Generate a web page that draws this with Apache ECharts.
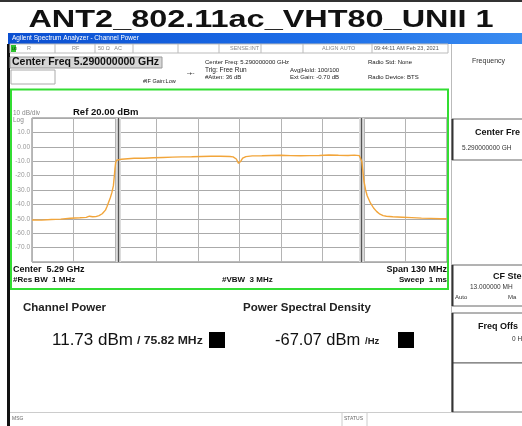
<!DOCTYPE html>
<html><head><meta charset="utf-8">
<script src="https://cdn.jsdelivr.net/npm/echarts@6/dist/echarts.min.js"></script>
<style>html,body{margin:0;padding:0;background:#fff}#c{width:522px;height:426px}</style>
</head><body><div id="c"></div>
<script>
// Frequency offset from 5.29 GHz centre (MHz) and trace level (dBm)
const freqOffsetMHz = [-65,-62,-59,-56,-53,-50,-48,-47,-46,-45,-44,-43,-42,-41.5,-41,-40.5,-40,-39.5,-39.2,-39,-38.8,-38.5,-38,-37,-35,-33,-30,-27,-24,-21,-18,-15,-12,-9,-6,-3,-2,-1,-0.3,0,0.4,1,2,4,7,10,13,16,19,22,25,28,31,34,36,37.5,38,38.3,38.6,39,39.5,40,41,42,43,44,45,46,48,51,54,57,60,63,65];
const traceDbm = [-50.8,-50.9,-50.5,-50.2,-49.6,-49.3,-49.0,-48.2,-48.6,-48.5,-47.8,-46.5,-44,-41.5,-38.5,-35.5,-32,-27,-20,-15,-11,-9.3,-8.8,-8.6,-8.3,-8.0,-7.9,-7.6,-7.4,-7.2,-7.0,-6.9,-6.7,-6.6,-6.6,-6.7,-7.0,-8.5,-11.5,-11.8,-10,-7.8,-6.8,-6.3,-6.2,-6.0,-5.9,-6.1,-6.2,-6.1,-6.0,-5.7,-5.9,-6.0,-5.8,-6.1,-7,-10,-16,-24,-30,-34,-39,-42.5,-45,-46.8,-47.8,-48.2,-48.6,-48.9,-49.2,-49.5,-49.7,-50,-50];
const channelEdgesMHz = [-38, 38];
const yTickValues = [10,0,-10,-20,-30,-40,-50,-60,-70];
const yTickLabels = ['10.0','0.00','-10.0','-20.0','-30.0','-40.0','-50.0','-60.0','-70.0'];
const spanMHz = 130, divMHz = 13;

const F = '"Liberation Sans", Arial, sans-serif';
function T(x, y, text, size, opt) {
  opt = opt || {};
  return {type:'text', x:x, y:y, scaleX: opt.sx || 1, z: 10,
    style:{text:text, fill: opt.c || '#111', font:(opt.b ? 'bold ' : '') + size + 'px ' + F,
      align: opt.a || 'left', verticalAlign:'middle', textDecoration: opt.u ? 'underline' : 'none'}};
}
function R(x, y, w, h, fill, stroke, lw) {
  return {type:'rect', shape:{x:x, y:y, width:w, height:h}, z: 1,
    style:{fill: fill || 'none', stroke: stroke || null, lineWidth: lw || 1}};
}
function L(x1, y1, x2, y2, c, w) {
  return {type:'line', shape:{x1:x1, y1:y1, x2:x2, y2:y2}, z: 2, style:{stroke:c, lineWidth:w || 1}};
}

const graphic = [
  R(0,0,522,2,'#333'),
  T(261, 21, 'ANT2_802.11ac_VHT80_UNII 1', 23, {b:1, a:'center', sx:1.41}),
  {type:'rect', shape:{x:8,y:33,width:514,height:11}, z:1,
    style:{fill:new echarts.graphic.LinearGradient(0,0,1,0,[{offset:0,color:'#0b4fd1'},{offset:0.6,color:'#1d6ee8'},{offset:1,color:'#3a8cf0'}])}},
  T(12, 38.5, 'Agilent Spectrum Analyzer - Channel Power', 6.5, {c:'#fff'}),
  // left black strip
  R(7,44,3,382,'#111'),
  // status row
  R(10,44,438,9,'#fff','#bbb'),
  R(11,45,5,7,'#2ec42e'),
  T(12.2,48.7,'LXI',3,{c:'#000'}),
  L(55,44,55,53,'#bbb'), L(95,44,95,53,'#bbb'), L(133,44,133,53,'#bbb'), L(178,44,178,53,'#bbb'),
  L(219,44,219,53,'#bbb'), L(261,44,261,53,'#bbb'), L(303,44,303,53,'#bbb'), L(372,44,372,53,'#bbb'),
  T(27,48.5,'R',5.5,{c:'#888'}), T(72,48.5,'RF',5.5,{c:'#888'}), T(98,48.5,'50 Ω   AC',5.5,{c:'#888'}),
  T(230,48.5,'SENSE:INT',5.5,{c:'#888'}), T(322,48.5,'ALIGN AUTO',5.5,{c:'#888'}),
  T(374,48.5,'09:44:11 AM Feb 23, 2021',5.5,{c:'#555'}),
  // header
  R(10,57,152,11,'#d6d6d6','#999'),
  T(12,62.5,'Center Freq 5.290000000 GHz',10.5,{b:1}),
  R(11,70,44,14,'#fff','#aaa'),
  T(143,81,'#IF Gain:Low',5.5,{c:'#222'}),
  T(187,73,'-+-',6,{c:'#222'}),
  T(205,62.5,'Center Freq: 5.290000000 GHz',6,{c:'#222'}),
  T(205,70,'Trig: Free Run',6.5,{c:'#222'}),
  T(205,77.5,'#Atten: 36 dB',6,{c:'#222'}),
  T(290,70,'Avg|Hold: 100/100',6,{c:'#222'}),
  T(290,77.5,'Ext Gain: -0.70 dB',6,{c:'#222'}),
  T(368,62.5,'Radio Std: None',6,{c:'#222'}),
  T(368,77.5,'Radio Device: BTS',6,{c:'#222'}),
  // graph frame
  R(11,89.5,437,199.5,'none','#33dd33',2),
  T(13,113,'10 dB/div',6.5,{c:'#888'}),
  T(73,112,'Ref 20.00 dBm',9.5,{b:1}),
  T(13,120,'Log',6.5,{c:'#888'}),
  T(13,270,'Center  5.29 GHz',9,{b:1}),
  T(13,280,'#Res BW  1 MHz',8,{b:1}),
  T(222,280,'#VBW  3 MHz',8,{b:1}),
  T(447,270,'Span 130 MHz',9,{b:1,a:'right'}),
  T(447,280,'Sweep  1 ms',8,{b:1,a:'right'}),
  // results
  T(23,308,'Channel Power',11.5,{b:1,c:'#222'}),
  T(243,308,'Power Spectral Density',11.5,{b:1,c:'#222'}),
  T(52,340,'11.73 dBm',17,{c:'#111'}),
  T(137,341,'/ 75.82 MHz',10,{b:1,c:'#222',sx:1.22}),
  R(209,332,16,16,'#000'),
  T(275,340,'-67.07 dBm',16.5,{c:'#111'}),
  T(365,341,'/Hz',9.5,{b:1,c:'#222'}),
  R(398,332,16,16,'#000'),
  // bottom status bar
  L(10,412.5,452,412.5,'#ccc',1),
  T(12,419,'MSG',5,{c:'#666'}),
  L(342,413,342,426,'#ccc'), L(367,413,367,426,'#ccc'),
  T(344,419,'STATUS',5,{c:'#666'}),
  // right panel
  L(451.5,44,451.5,412,'#bbb'),
  T(472,61,'Frequency',7,{c:'#333'}),
  R(452,119,72,41,'#fff','#666'), L(452.5,119,452.5,160,'#333',2),
  T(475,133,'Center Fre',9,{b:1,c:'#111'}),
  T(462,148,'5.290000000 GH',6.5,{c:'#333'}),
  R(452,265,72,41,'#fff','#666'), L(452.5,265,452.5,306,'#333',2),
  T(493,277,'CF Ste',9,{b:1,c:'#111'}),
  T(470,287,'13.000000 MH',6.5,{c:'#333'}),
  T(455,297,'Auto',6,{c:'#333',u:1}), T(508,297,'Ma',6,{c:'#333'}),
  R(452,313,72,50,'#fff','#666'), L(452.5,313,452.5,363,'#333',2),
  T(478,327,'Freq Offs',9,{b:1,c:'#111'}),
  T(512,339,'0 H',6.5,{c:'#333'}),
  R(452,363,72,49,'#fff','#666'), L(452.5,363,452.5,412,'#333',2)
];

const chart = echarts.init(document.getElementById('c'), null, {renderer:'canvas'});
chart.setOption({
  animation:false,
  backgroundColor:'#fff',
  grid:{left:32, top:118, width:415, height:144, show:true, borderColor:'#777', borderWidth:1},
  xAxis:{type:'value', min:-spanMHz/2, max:spanMHz/2, interval:divMHz,
    axisLine:{show:false}, axisTick:{show:false}, axisLabel:{show:false},
    splitLine:{show:true, lineStyle:{color:'#b4b4b4', width:1}}},
  yAxis:{type:'value', min:-80, max:20, interval:10,
    axisLine:{show:false}, axisTick:{show:false},
    axisLabel:{color:'#999', fontSize:6.5, fontFamily:'Liberation Sans', margin:2,
      formatter:function(v){ const i = yTickValues.indexOf(v); return i >= 0 ? yTickLabels[i] : ''; }},
    splitLine:{show:true, lineStyle:{color:'#aaa', width:1}}},
  series:[{type:'line', data:freqOffsetMHz.map((f,i)=>[f,traceDbm[i]]), showSymbol:false,
    lineStyle:{color:'#F2A53A', width:1.4}, z:5,
    markLine:{silent:true, symbol:'none', label:{show:false}, animation:false,
      data:[
        {xAxis:channelEdgesMHz[0], lineStyle:{color:'#dcdcdc', width:5, type:'solid'}},
        {xAxis:channelEdgesMHz[1], lineStyle:{color:'#dcdcdc', width:5, type:'solid'}},
        {xAxis:channelEdgesMHz[0], lineStyle:{color:'#555', width:1.3, type:'solid'}},
        {xAxis:channelEdgesMHz[1], lineStyle:{color:'#555', width:1.3, type:'solid'}}
      ]}}],
  graphic:graphic
});
</script></body></html>
